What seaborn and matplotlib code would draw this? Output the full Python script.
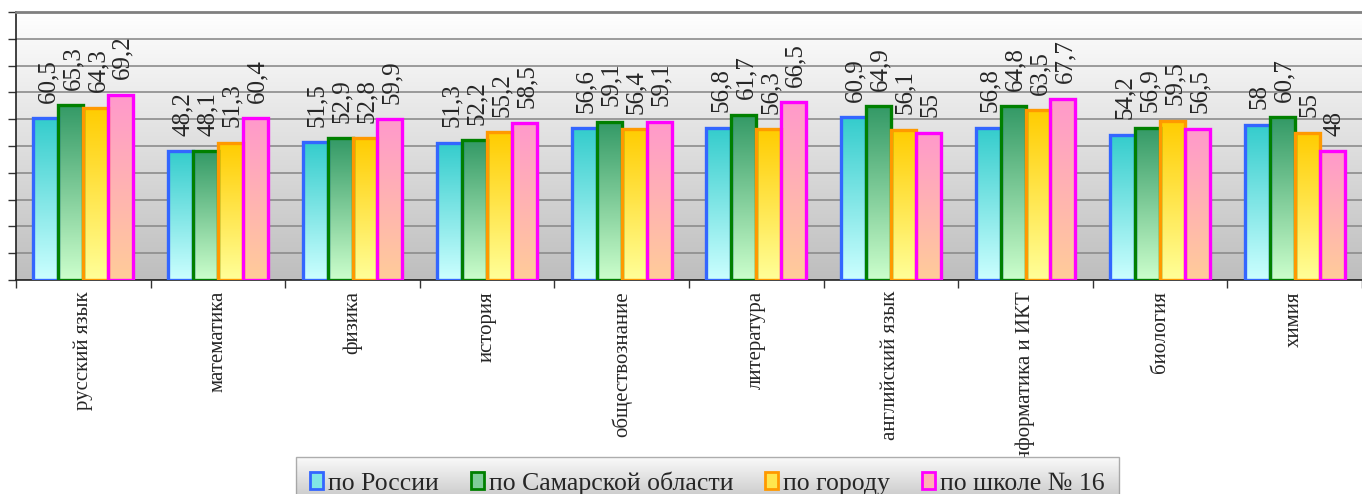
import numpy as np
import pandas as pd
import matplotlib
matplotlib.use("Agg")
import matplotlib.pyplot as plt
from matplotlib.colors import LinearSegmentedColormap
from matplotlib.patches import Patch
import seaborn as sns

# data
subjects = ["русский язык", "математика", "физика", "история", "обществознание",
            "литература", "английский язык", "информатика и ИКТ", "биология", "химия"]
series = ["по России", "по Самарской области", "по городу", "по школе № 16"]
russia = [60.5, 48.2, 51.5, 51.3, 56.6, 56.8, 60.9, 56.8, 54.2, 58]
samara = [65.3, 48.1, 52.9, 52.2, 59.1, 61.7, 64.9, 64.8, 56.9, 60.7]
city = [64.3, 51.3, 52.8, 55.2, 56.4, 56.3, 56.1, 63.5, 59.5, 55]
school = [69.2, 60.4, 59.9, 58.5, 59.1, 66.5, 55, 67.7, 56.5, 48]

# gradient fills (top colour, bottom colour) and edges
tops = ["#33CCCC", "#339966", "#FFCC00", "#FF99CC"]
bottoms = ["#CCFFFF", "#CCFFCC", "#FFFF99", "#FFCC99"]
mids = ["#80E6E6", "#80CC99", "#FFE64D", "#FFB3B3"]
edges = ["#3366FF", "#008000", "#FF9900", "#FF00FF"]

df = pd.DataFrame({
    "subject": subjects * 4,
    "series": np.repeat(series, len(subjects)),
    "value": russia + samara + city + school,
})

sns.set_style("white")
plt.rcParams["font.family"] = ["Liberation Serif", "DejaVu Serif"]

fig = plt.figure(figsize=(13.62, 4.94), dpi=100)
ax = fig.add_axes([16 / 1362, 1 - 280 / 494, 1 - 16 / 1362, (280 - 12) / 494])

sns.barplot(data=df, x="subject", y="value", hue="series", hue_order=series,
            order=subjects, width=0.74, ax=ax, legend=False)

# plot area background: white at top to grey at bottom
grad = np.linspace(0, 1, 256).reshape(-1, 1)
bg = LinearSegmentedColormap.from_list("bg", ["#BEBEBE", "#FFFFFF"])
ax.imshow(grad, cmap=bg, origin="lower", extent=[0, 1, 0, 1],
          transform=ax.transAxes, aspect="auto", zorder=0)

# gradient bars + value labels
for i, cont in enumerate(ax.containers):
    cmap = LinearSegmentedColormap.from_list(f"c{i}", [bottoms[i], tops[i]])
    for bar, val in zip(cont.patches, cont.datavalues):
        x, w, h = bar.get_x(), bar.get_width(), bar.get_height()
        bar.set_facecolor("none")
        bar.set_edgecolor(edges[i])
        bar.set_linewidth(2.4)
        bar.set_zorder(3)
        im = ax.imshow(grad, cmap=cmap, origin="lower",
                       extent=[x, x + w, 0, h], aspect="auto", zorder=2)
        im.set_clip_path(bar)
        txt = f"{val:g}".replace(".", ",")
        ax.annotate(txt, (x + w / 2, h), xytext=(1.5, 11), textcoords="offset points",
                    rotation=90, ha="center", va="bottom", fontsize=18)

ax.set_xlim(-0.5, len(subjects) - 0.5)
ax.set_ylim(0, 100)
ax.set_yticks(np.arange(0, 101, 10))
ax.set_yticklabels([])
ax.yaxis.grid(True, color="#8C8C8C", lw=1.2)
ax.set_axisbelow(True)
ax.tick_params(axis="y", left=True, length=6, width=1, color="#333333")

ax.set_xticks(range(len(subjects)))
ax.set_xticklabels(subjects, rotation=90, fontsize=15, va="top")
ax.tick_params(axis="x", which="major", length=0, pad=8)
ax.set_xticks(np.arange(-0.5, len(subjects), 1), minor=True)
ax.tick_params(axis="x", which="minor", bottom=True, length=6, width=1, color="#333333")
ax.set_xlabel("")
ax.set_ylabel("")

for s in ["left", "bottom"]:
    ax.spines[s].set_color("#222222")
    ax.spines[s].set_linewidth(1.2)
ax.spines["top"].set_color("#808080")
ax.spines["top"].set_linewidth(2)
ax.spines["right"].set_visible(False)

# legend
handles = [Patch(facecolor=mids[i], edgecolor=edges[i], lw=2) for i in range(4)]
leg = fig.legend(handles, series, loc="upper center", bbox_to_anchor=(0.5195, 1 - 457 / 494),
                 ncol=4, fontsize=18.5, frameon=True, fancybox=False, handlelength=0.5,
                 handleheight=0.6, handletextpad=0.2, columnspacing=1.25, borderpad=0.55,
                 borderaxespad=0)
leg.get_frame().set_facecolor("none")
leg.get_frame().set_edgecolor("#9A9A9A")
leg.set_zorder(10)

# gradient behind the legend
fig.canvas.draw()
bb = leg.get_window_extent().transformed(fig.transFigure.inverted())
lax = fig.add_axes([bb.x0, bb.y0, bb.width, bb.height], zorder=9)
lax.imshow(grad, cmap=LinearSegmentedColormap.from_list("lg", ["#BDBDBD", "#FAFAFA"]),
           origin="lower", aspect="auto", extent=[0, 1, 0, 1])
lax.axis("off")

fig.savefig("out.png", dpi=100)
